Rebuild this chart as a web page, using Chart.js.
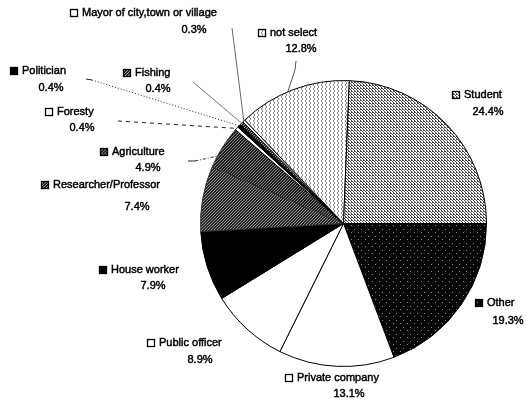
<!DOCTYPE html>
<html>
<head>
<meta charset="utf-8">
<script src="https://cdn.jsdelivr.net/npm/chart.js@4.4.1/dist/chart.umd.min.js"></script>
<style>
  html, body { margin: 0; padding: 0; background: #fff; }
  #wrap { width: 527px; height: 403px; }
</style>
</head>
<body>
<div id="wrap"><canvas id="chart"></canvas></div>
<script>
// slices, clockwise from 3 o'clock
const categories = ['Other', 'Private company', 'Public officer', 'House worker',
  'Researcher/Professor', 'Agriculture', 'Foresty', 'Politician', 'Fishing',
  'Mayor of city,town or village', 'not select', 'Student']
const shares = [19.3, 13.1, 8.9, 7.9, 7.4, 4.9, 0.4, 0.4, 0.4, 0.3, 12.8, 24.4]
const shareLabels = ['19.3%', '13.1%', '8.9%', '7.9%', '7.4%', '4.9%', '0.4%', '0.4%', '0.4%', '0.3%', '12.8%', '24.4%']

// label layout: [box left, name y, percent centre x, percent y]
const labelLayout = [
  [475, 303, 508, 321], [285, 378, 349, 394], [147, 343, 200, 360],
  [99, 270, 153, 286], [41, 185, 137, 207], [100, 152, 148, 168],
  [45, 112, 82, 128], [10, 71, 51, 88], [123, 73, 158, 89],
  [70, 13, 194, 30], [258, 33, 301, 49], [452, 95, 488, 112]
]

// leader lines for the crowded slices (start points, then dash to the arc)
const leaders = {
  5: { pts: [[188, 161], [195, 161]], dash: [3, 2, 1, 2], color: '#222', shift: -0.07 },
  6: { pts: [[118, 121]], dash: [4, 4], color: '#222' },
  7: { pts: [[86, 79], [92, 80]], dash: [1, 2], color: '#222' },
  8: { pts: [[193, 82]], dash: [], color: '#777' },
  9: { pts: [[232, 28]], dash: [], color: '#666' },
  10: { pts: [[296, 61], [295, 70]], dash: [], color: '#555', shift: -0.04 }
}

function hatch(bg, fg, size, draw) {
  const c = document.createElement('canvas')
  c.width = size; c.height = size
  const g = c.getContext('2d')
  g.fillStyle = bg
  g.fillRect(0, 0, size, size)
  g.fillStyle = fg
  draw(g, size)
  return g.createPattern(c, 'repeat')
}
function diag(g, n) { for (let i = 0; i < n; i++) g.fillRect(i, i, 1, 1) }
function diag2(g, n) { for (let i = 0; i < n; i++) g.fillRect(n - 1 - i, i, 1, 1) }

const studentFill = hatch('#ffffff', '#4a4a4a', 3, (g, n) => { diag(g, n); g.fillRect(0, 1, 1, 1) })
const notSelectFill = hatch('#ffffff', '#8a8a8a', 4, (g) => { g.fillRect(1, 0, 1, 2); g.fillRect(2, 2, 1, 2) })
const researchFill = hatch('#222222', '#9a9a9a', 3, diag2)
const agriFill = hatch('#1a1a1a', '#8a8a8a', 3, diag2)
const otherFill = hatch('#050505', '#888888', 7, (g) => { g.fillRect(1, 1, 1, 1); g.fillRect(4, 5, 1, 1) })
const fishFill = hatch('#222222', '#aaaaaa', 3, diag2)

const fills = [otherFill, '#ffffff', '#ffffff', '#000000', researchFill, agriFill,
  '#ffffff', '#000000', fishFill, '#ffffff', notSelectFill, studentFill]
// hide internal edges where the print shows none
const edges = ['#000', '#000', '#000', '#000', '#333', '#333', '#000', '#000', '#000', '#000', '#000', '#000']

const labelPlugin = {
  id: 'labels',
  afterDraw(chart) {
    const ctx = chart.ctx
    const arcs = chart.getDatasetMeta(0).data
    ctx.save()
    ctx.font = '11px "Liberation Sans", Arial, sans-serif'
    ctx.textBaseline = 'middle'
    categories.forEach((name, i) => {
      const [bx, ny, px, py] = labelLayout[i]
      // legend square
      ctx.fillStyle = fills[i]
      ctx.fillRect(bx, ny - 4, 8, 8)
      ctx.strokeStyle = '#000'
      ctx.lineWidth = 1.3
      ctx.strokeRect(bx + 0.5, ny - 3.5, 7, 7)
      ctx.fillStyle = '#000'
      ctx.strokeStyle = '#000'
      ctx.lineWidth = 0.45
      ctx.textAlign = 'left'
      ctx.fillText(name, bx + 12, ny)
      ctx.strokeText(name, bx + 12, ny)
      ctx.textAlign = 'center'
      ctx.fillText(shareLabels[i], px, py)
      ctx.strokeText(shareLabels[i], px, py)

      const lead = leaders[i]
      if (lead) {
        const a = arcs[i].getProps(['x', 'y', 'startAngle', 'endAngle', 'outerRadius'], true)
        const mid = (a.startAngle + a.endAngle) / 2 + (lead.shift || 0)
        const ex = a.x + Math.cos(mid) * a.outerRadius
        const ey = a.y + Math.sin(mid) * a.outerRadius
        ctx.strokeStyle = lead.color
        ctx.lineWidth = 1
        ctx.setLineDash([])
        ctx.beginPath()
        ctx.moveTo(lead.pts[0][0], lead.pts[0][1])
        lead.pts.slice(1).forEach(p => ctx.lineTo(p[0], p[1]))
        ctx.stroke()
        const last = lead.pts[lead.pts.length - 1]
        ctx.setLineDash(lead.dash)
        ctx.beginPath()
        ctx.moveTo(last[0], last[1])
        ctx.lineTo(ex, ey)
        ctx.stroke()
        ctx.setLineDash([])
      }
    })
    ctx.restore()
  }
}

new Chart(document.getElementById('chart'), {
  type: 'pie',
  data: {
    labels: categories,
    datasets: [{
      data: shares,
      backgroundColor: fills,
      borderColor: edges,
      borderWidth: 1
    }]
  },
  options: {
    responsive: true,
    maintainAspectRatio: false,
    animation: false,
    events: [],
    rotation: 90,
    layout: { padding: { left: 199, right: 39, top: 80, bottom: 36 } },
    plugins: {
      legend: { display: false },
      tooltip: { enabled: false }
    }
  },
  plugins: [labelPlugin]
})
</script>
</body>
</html>
